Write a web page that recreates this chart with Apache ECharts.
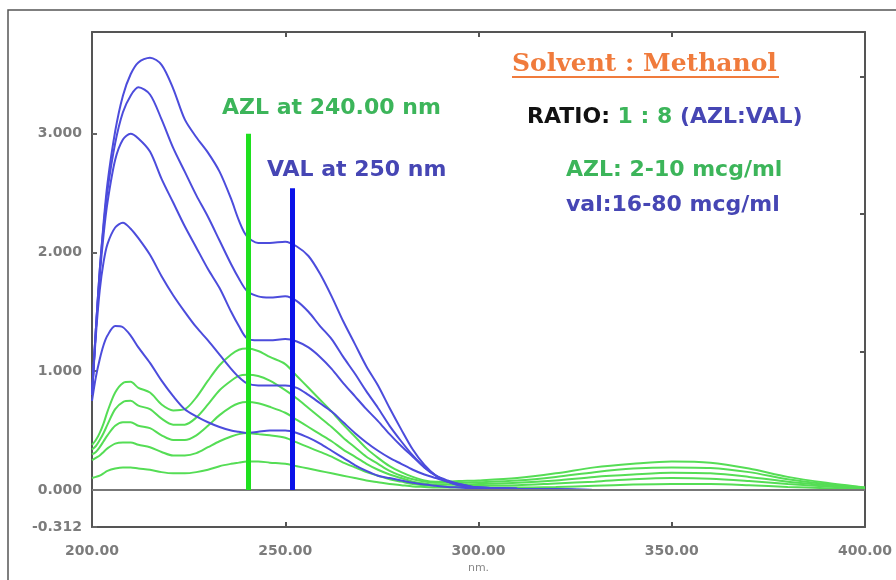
<!DOCTYPE html>
<html>
<head>
<meta charset="utf-8">
<script src="https://cdn.jsdelivr.net/npm/echarts@6/dist/echarts.min.js"></script>
<style>
html, body { margin: 0; padding: 0; background: #fff; }
#chart { width: 896px; height: 580px; }
</style>
</head>
<body>
<div id="chart"></div>
<script>
// wavelength grid (nm) shared by every spectrum
var wavelengths = [200,201,202,203,204,206,208,210,212,215,218,221,224,227,230,233,236,238,240,243,246,250,253,256,259,262,265,268,271,274,277,280,283,286,289,292,295,300,310,320,330,340,350,360,370,380,390,400];

// VAL spectra (blue), 16 -> 80 mcg/ml
var val16 = [0.75,0.95,1.1,1.22,1.3, 1.38,1.37,1.3,1.2, 1.07,0.92,0.79,0.68,0.62,0.57,0.53,0.5, 0.49,0.48, 0.49,0.5,0.5, 0.48,0.44,0.39,0.33,0.27,0.21,0.16,0.12,0.1,0.08,0.06,0.045,0.035,0.025,0.02, 0.01, 0.005,0,0,0,0,0,0,0,0,0];
var val32 = [0.8,1.3,1.68,1.92,2.07, 2.21,2.25,2.2,2.12, 1.98,1.8,1.64,1.5,1.37,1.26,1.14,1.02, 0.95,0.9, 0.88,0.88,0.88, 0.86,0.8,0.73,0.66,0.57,0.48,0.4,0.33,0.27,0.22,0.17,0.13,0.1,0.07,0.05, 0.02, 0.01,0.005,0,0,0,0,0,0,0,0];
var val48 = [0.8,1.35,1.8,2.15,2.42, 2.78,2.95,3.0,2.96, 2.85,2.62,2.42,2.22,2.04,1.86,1.7,1.5, 1.38,1.28, 1.26,1.26,1.27, 1.25,1.2,1.12,1.02,0.9,0.79,0.68,0.58,0.47,0.37,0.28,0.19,0.12,0.07,0.04, 0.02, 0.01,0.005,0,0,0,0,0,0,0,0];
var val64 = [0.8,1.35,1.85,2.22,2.52, 2.92,3.18,3.32,3.39, 3.33,3.12,2.88,2.68,2.48,2.3,2.1,1.9, 1.78,1.68, 1.63,1.62,1.63, 1.59,1.5,1.38,1.27,1.12,0.98,0.83,0.69,0.54,0.41,0.29,0.19,0.12,0.08,0.05, 0.02, 0.01,0.005,0,0,0,0,0,0,0,0];
var val80 = [0.8,1.35,1.85,2.25,2.58, 3.02,3.32,3.5,3.6, 3.64,3.58,3.38,3.12,2.97,2.84,2.68,2.45, 2.27,2.14, 2.08,2.08,2.09, 2.05,1.97,1.82,1.63,1.42,1.23,1.04,0.88,0.69,0.51,0.34,0.21,0.12,0.07,0.04, 0.02, 0.01,0.005,0,0,0,0,0,0,0,0];

// AZL spectra (green), 2 -> 10 mcg/ml
var azl2 = [0.1,0.11,0.12,0.14,0.16, 0.18,0.19,0.19,0.18, 0.17,0.15,0.14,0.14,0.15,0.17,0.2,0.22, 0.23,0.24, 0.24,0.23,0.22, 0.2,0.18,0.16,0.14,0.12,0.1,0.08,0.065,0.05,0.04,0.03,0.025,0.02,0.02,0.02, 0.02, 0.02,0.025,0.035,0.045,0.05,0.05,0.04,0.025,0.015,0.005];
var azl4 = [0.25,0.27,0.29,0.32,0.35, 0.39,0.4,0.4,0.38, 0.36,0.32,0.29,0.29,0.31,0.36,0.41,0.45, 0.47,0.48, 0.47,0.46,0.44, 0.4,0.36,0.32,0.28,0.23,0.19,0.15,0.12,0.09,0.07,0.05,0.04,0.035,0.03,0.03, 0.035, 0.04,0.055,0.07,0.09,0.1,0.095,0.075,0.05,0.03,0.01];
var azl6 = [0.3,0.32,0.36,0.41,0.46, 0.54,0.57,0.57,0.54, 0.52,0.46,0.42,0.42,0.46,0.54,0.63,0.7, 0.73,0.74, 0.73,0.7,0.65, 0.59,0.53,0.47,0.41,0.34,0.28,0.22,0.17,0.13,0.1,0.07,0.055,0.045,0.045,0.045, 0.05, 0.06,0.08,0.11,0.13,0.145,0.14,0.11,0.07,0.04,0.015];
var azl8 = [0.34,0.37,0.42,0.48,0.55, 0.68,0.74,0.75,0.71, 0.68,0.6,0.55,0.55,0.61,0.72,0.84,0.92, 0.96,0.97, 0.96,0.92,0.84, 0.77,0.69,0.61,0.53,0.44,0.36,0.28,0.22,0.16,0.12,0.09,0.07,0.06,0.06,0.06, 0.065, 0.08,0.11,0.15,0.18,0.19,0.185,0.15,0.09,0.05,0.02];
var azl10 = [0.38,0.42,0.48,0.56,0.66, 0.82,0.9,0.91,0.86, 0.82,0.72,0.67,0.68,0.78,0.92,1.05,1.14, 1.18,1.19, 1.17,1.12,1.06, 0.96,0.86,0.76,0.66,0.55,0.45,0.35,0.27,0.2,0.15,0.11,0.08,0.07,0.07,0.075, 0.08, 0.1,0.14,0.19,0.22,0.24,0.23,0.18,0.11,0.06,0.02];

// axis ticks / labels
var yLabelValues = [-0.312, 0, 1, 2, 3];
var rightTickValues = [1.161, 2.322, 3.483];
var yMin = -0.312, yMax = 3.856;

// marker lines: [wavelength, top absorbance]
var azlMarker = [240.4, 3.0];
var valMarker = [251.7, 2.54];

var blueColor = '#4c4cdc';
var greenColor = '#55dd55';
var textGreen = '#3cb55a';
var textBlue = '#4646b4';
var annFont = 'bold 22px "DejaVu Sans"';

function pairs(ys) {
  return wavelengths.map(function (w, i) { return [w, ys[i]]; });
}

function spectrum(ys, color) {
  return {
    type: 'line',
    data: pairs(ys),
    smooth: 0.3,
    showSymbol: false,
    silent: true,
    lineStyle: { color: color, width: 2 },
    z: 3
  };
}

var chart = echarts.init(document.getElementById('chart'));

var series = [];
[azl2, azl4, azl6, azl8, azl10].forEach(function (d) { series.push(spectrum(d, greenColor)); });
[val16, val32, val48, val64, val80].forEach(function (d) { series.push(spectrum(d, blueColor)); });

// zero line
series[0].markLine = {
  silent: true, symbol: 'none', label: { show: false },
  lineStyle: { color: '#777', width: 2, type: 'solid' },
  data: [{ yAxis: 0 }]
};

// wavelength marker lines
series.push({
  type: 'line', data: [], z: 10,
  markLine: {
    silent: true, symbol: 'none', label: { show: false },
    data: [
      [{ coord: [azlMarker[0], 0], lineStyle: { color: '#1ee01e', width: 5, type: 'solid' } },
       { coord: [azlMarker[0], azlMarker[1]] }],
      [{ coord: [valMarker[0], 0], lineStyle: { color: '#0a12e8', width: 5, type: 'solid' } },
       { coord: [valMarker[0], valMarker[1]] }]
    ]
  }
});

var labelFont = { color: '#7c7c7c', fontFamily: 'DejaVu Sans', fontWeight: 'bold', fontSize: 14 };

var option = {
  animation: false,
  backgroundColor: '#fff',
  grid: { left: 92, right: 31, top: 32, bottom: 53 },
  xAxis: [{
    type: 'value', min: 200, max: 400, interval: 50,
    name: 'nm.', nameLocation: 'middle', nameGap: 32,
    nameTextStyle: { color: '#888', fontFamily: 'DejaVu Sans', fontSize: 11 },
    axisLine: { onZero: false, lineStyle: { color: '#555', width: 2 } },
    axisTick: { inside: true, length: 5, lineStyle: { color: '#555', width: 2 } },
    axisLabel: Object.assign({ margin: 17, formatter: function (v) { return v.toFixed(2); } }, labelFont),
    splitLine: { show: false }
  }, {
    type: 'value', position: 'top', min: 200, max: 400, interval: 50,
    axisLine: { onZero: false, lineStyle: { color: '#555', width: 2 } },
    axisTick: { inside: true, length: 5, lineStyle: { color: '#555', width: 2 } },
    axisLabel: { show: false },
    splitLine: { show: false }
  }],
  yAxis: [{
    type: 'value', min: yMin, max: yMax,
    axisLine: { onZero: false, lineStyle: { color: '#555', width: 2 } },
    axisTick: { inside: true, length: 5, customValues: yLabelValues, lineStyle: { color: '#666', width: 2 } },
    axisLabel: Object.assign({ margin: 10, customValues: yLabelValues, formatter: function (v) { return v.toFixed(3); } }, labelFont),
    splitLine: { show: false }
  }, {
    type: 'value', position: 'right', min: yMin, max: yMax,
    axisLine: { onZero: false, lineStyle: { color: '#555', width: 2 } },
    axisTick: { inside: true, length: 5, customValues: rightTickValues, lineStyle: { color: '#555', width: 2 } },
    axisLabel: { show: false },
    splitLine: { show: false }
  }],
  graphic: [
    { type: 'rect', shape: { x: 8, y: 10, width: 1000, height: 1000 }, style: { fill: 'none', stroke: '#555', lineWidth: 1.5 }, silent: true },
    { type: 'text', x: 512, y: 64, style: { text: 'Solvent : Methanol', fill: '#f07b3c', font: 'bold 25px "DejaVu Serif"', verticalAlign: 'middle' } },
    { type: 'line', shape: { x1: 512, y1: 77, x2: 779, y2: 77 }, style: { stroke: '#f07b3c', lineWidth: 2 } },
    { type: 'text', x: 527, y: 117, style: {
        rich: {
          k: { fill: '#111', font: annFont },
          g: { fill: textGreen, font: annFont },
          b: { fill: textBlue, font: annFont }
        },
        text: '{k|RATIO: }{g|1 : 8 }{b|(AZL:VAL)}',
        verticalAlign: 'middle'
    } },
    { type: 'text', x: 566, y: 170, style: { text: 'AZL: 2-10 mcg/ml', fill: textGreen, font: annFont, verticalAlign: 'middle' } },
    { type: 'text', x: 566, y: 205, style: { text: 'val:16-80 mcg/ml', fill: textBlue, font: annFont, verticalAlign: 'middle' } },
    { type: 'text', x: 222, y: 108, style: { text: 'AZL at 240.00 nm', fill: textGreen, font: annFont, verticalAlign: 'middle' } },
    { type: 'text', x: 267, y: 170, style: { text: 'VAL at 250 nm', fill: textBlue, font: annFont, verticalAlign: 'middle' } }
  ],
  series: series
};

chart.setOption(option);
</script>
</body>
</html>
